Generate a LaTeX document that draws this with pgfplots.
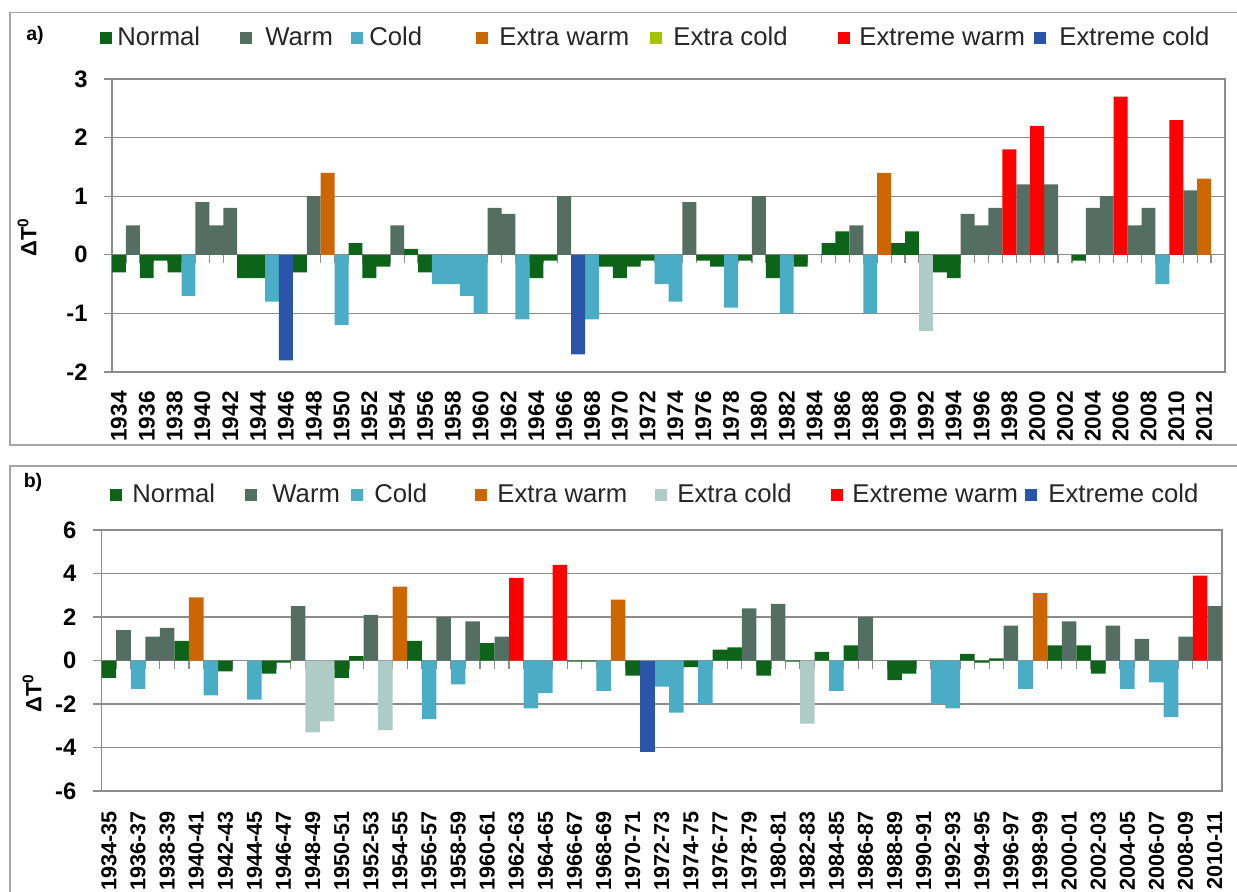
\documentclass[border=0pt]{standalone}
\usepackage{fontspec}
\setmainfont{Liberation Sans}
\usepackage{pgfplots}
\pgfplotsset{compat=1.18}
\definecolor{cNormal}{HTML}{0D6418}
\definecolor{cWarm}{HTML}{546E64}
\definecolor{cCold}{HTML}{4BACC6}
\definecolor{cXwarm}{HTML}{CC6600}
\definecolor{cXcold}{HTML}{AFCBC6}
\definecolor{cXcoldLeg}{HTML}{A5C400}
\definecolor{cEwarm}{HTML}{FF0000}
\definecolor{cEcold}{HTML}{2A55A8}
\definecolor{gridc}{HTML}{8C8C8C}
\definecolor{framec}{HTML}{A6A6A6}
\newcommand{\gap}[1]{\hspace*{#1}\null}
\pgfplotsset{
  catbar/.style={ybar, bar width=1, bar shift=0pt, fill=#1, draw=none,
    legend image code/.code={\fill[#1] (0pt,-3pt) rectangle (6pt,3pt);}},
  panel/.style={
    scale only axis, enlargelimits=false,
    axis line style={gridc, line width=0.6pt},
    ymajorgrids, grid style={gridc, line width=0.6pt},
    xtick style={draw=none},
    ytick style={gridc, line width=0.6pt}, ytick pos=left, tick align=outside, major tick length=4pt,
    yticklabel style={font=\fontsize{11.9}{12}\selectfont\bfseries, inner sep=0pt, anchor=east, xshift=-8pt},
    xticklabel style={font=\fontsize{11.3}{12}\selectfont\bfseries, inner sep=0pt, yshift=-5.5pt, rotate=90, anchor=east},
    /pgf/number format/assume math mode=true,
    legend columns=7,
    legend cell align=left,
    legend style={draw=none, fill=none, font=\fontsize{12.85}{14}\selectfont, inner sep=0pt,
      column sep=0pt, nodes={inner sep=0pt}, text=black!85},
    ylabel style={font=\fontsize{11}{12}\selectfont\bfseries, anchor=center, rotate=0},
  }
}
\begin{document}
\begin{tikzpicture}
\useasboundingbox (0pt,0pt) rectangle (618.5pt,-446pt);
% panel frames
\draw[framec, line width=0.75pt] (625pt,-6.35pt) -- (5pt,-6.35pt) -- (5pt,-222.5pt) -- (625pt,-222.5pt);
\draw[framec, line width=0.75pt] (625pt,-233pt) -- (5pt,-233pt) -- (5pt,-450pt);
\node[font=\fontsize{9.8}{10}\selectfont\bfseries] at (17.5pt,-17.5pt) {a)};
\node[font=\fontsize{9.8}{10}\selectfont\bfseries] at (16.5pt,-241pt) {b)};

% ---------------- panel a ----------------
\begin{axis}[panel,
  width=556.5pt, height=146.5pt, at={(56pt,-186pt)}, anchor=south west,
  xmin=-0.5, xmax=79.5, ymin=-2, ymax=3,
  ytick={-2,-1,0,1,2,3}, yticklabels={-2,-1,0,1,2,3},
  xtick={0,2,...,78},
  xticklabels={1934,1936,1938,1940,1942,1944,1946,1948,1950,1952,1954,1956,1958,1960,1962,1964,1966,1968,1970,1972,1974,1976,1978,1980,1982,1984,1986,1988,1990,1992,1994,1996,1998,2000,2002,2004,2006,2008,2010,2012},
  ylabel={ΔT\textsuperscript{0}},
  ylabel style={at={(axis description cs:-0.0764,0.461)}},
  legend style={at={(axis description cs:-0.0108,1.140)}, anchor=west},
]
\pgfplotsinvokeforeach{0,...,79}{\draw[gridc, line width=0.6pt] (axis cs:#1-0.5,0) -- ([yshift=-4pt]axis cs:#1-0.5,0);}
\addplot[catbar=cNormal] coordinates {(0,-0.3) (2,-0.4) (3,-0.1) (4,-0.3) (9,-0.4) (10,-0.4) (13,-0.3) (17,0.2) (18,-0.4) (19,-0.2) (21,0.1) (22,-0.3) (30,-0.4) (31,-0.1) (35,-0.2) (36,-0.4) (37,-0.2) (38,-0.1) (42,-0.1) (43,-0.2) (45,-0.1) (47,-0.4) (49,-0.2) (51,0.2) (52,0.4) (56,0.2) (57,0.4) (59,-0.3) (60,-0.4) (69,-0.1)};
\addlegendentry{\gap{2.5pt}Normal\gap{20.1pt}}
\addplot[catbar=cWarm] coordinates {(1,0.5) (6,0.9) (7,0.5) (8,0.8) (14,1.0) (20,0.5) (27,0.8) (28,0.7) (32,1.0) (41,0.9) (46,1.0) (53,0.5) (61,0.7) (62,0.5) (63,0.8) (65,1.2) (67,1.2) (70,0.8) (71,1.0) (73,0.5) (74,0.8) (77,1.1)};
\addlegendentry{\gap{6.5pt}Warm\gap{9.2pt}}
\addplot[catbar=cCold] coordinates {(5,-0.7) (11,-0.8) (16,-1.2) (23,-0.5) (24,-0.5) (25,-0.7) (26,-1.0) (29,-1.1) (34,-1.1) (39,-0.5) (40,-0.8) (44,-0.9) (48,-1.0) (54,-1.0) (75,-0.5)};
\addlegendentry{\gap{3pt}Cold\gap{27.1pt}}
\addplot[catbar=cXwarm] coordinates {(15,1.4) (55,1.4) (78,1.3)};
\addlegendentry{\gap{5.5pt}Extra warm\gap{10.5pt}}
\addplot[catbar=cXcold, legend image code/.code={\fill[cXcoldLeg] (0pt,-3pt) rectangle (6pt,3pt);}] coordinates {(58,-1.3)};
\addlegendentry{\gap{5.5pt}Extra cold\gap{25.4pt}}
\addplot[catbar=cEwarm] coordinates {(64,1.8) (66,2.2) (72,2.7) (76,2.3)};
\addlegendentry{\gap{4.5pt}Extreme warm\gap{4.7pt}}
\addplot[catbar=cEcold] coordinates {(12,-1.8) (33,-1.7)};
\addlegendentry{\gap{6.5pt}Extreme cold}
\end{axis}

% ---------------- panel b ----------------
\begin{axis}[panel,
  width=560.1pt, height=130.5pt, at={(50.85pt,-395.5pt)}, anchor=south west,
  xmin=-0.5, xmax=76.5, ymin=-6, ymax=6,
  ytick={-6,-4,-2,0,2,4,6}, yticklabels={-6,-4,-2,0,2,4,6},
  xtick={0,2,...,76},
  xticklabels={1934-35,1936-37,1938-39,1940-41,1942-43,1944-45,1946-47,1948-49,1950-51,1952-53,1954-55,1956-57,1958-59,1960-61,1962-63,1964-65,1966-67,1968-69,1970-71,1972-73,1974-75,1976-77,1978-79,1980-81,1982-83,1984-85,1986-87,1988-89,1990-91,1992-93,1994-95,1996-97,1998-99,2000-01,2002-03,2004-05,2006-07,2008-09,2010-11},
  xticklabel style={font=\fontsize{10.8}{12}\selectfont\bfseries},
  major tick length=4.5pt,
  ylabel={ΔT\textsuperscript{0}},
  ylabel style={at={(axis description cs:-0.0622,0.375)}},
  legend style={at={(axis description cs:0.0074,1.134)}, anchor=west},
]
\pgfplotsinvokeforeach{0,...,77}{\draw[gridc, line width=0.6pt] (axis cs:#1-0.5,0) -- ([yshift=-4pt]axis cs:#1-0.5,0);}
\addplot[catbar=cNormal] coordinates {(0,-0.8) (5,0.9) (8,-0.5) (11,-0.6) (12,-0.1) (16,-0.8) (17,0.2) (21,0.9) (26,0.8) (32,-0.05) (33,-0.05) (36,-0.7) (40,-0.3) (42,0.5) (43,0.6) (45,-0.7) (47,-0.05) (49,0.4) (51,0.7) (54,-0.9) (55,-0.6) (59,0.3) (60,-0.1) (61,0.1) (65,0.7) (67,0.7) (68,-0.6)};
\addlegendentry{\gap{5pt}Normal\gap{15.1pt}}
\addplot[catbar=cWarm] coordinates {(1,1.4) (3,1.1) (4,1.5) (13,2.5) (18,2.1) (23,2.0) (25,1.8) (27,1.1) (44,2.4) (46,2.6) (52,2.0) (62,1.6) (66,1.8) (69,1.6) (71,1.0) (74,1.1) (76,2.5)};
\addlegendentry{\gap{7.5pt}Warm\gap{5.7pt}}
\addplot[catbar=cCold] coordinates {(2,-1.3) (7,-1.6) (10,-1.8) (22,-2.7) (24,-1.1) (29,-2.2) (30,-1.5) (34,-1.4) (38,-1.2) (39,-2.4) (41,-2.0) (50,-1.4) (57,-2.0) (58,-2.2) (63,-1.3) (70,-1.3) (72,-1.0) (73,-2.6)};
\addlegendentry{\gap{5.5pt}Cold\gap{24.1pt}}
\addplot[catbar=cXwarm] coordinates {(6,2.9) (20,3.4) (35,2.8) (64,3.1)};
\addlegendentry{\gap{5pt}Extra warm\gap{14pt}}
\addplot[catbar=cXcold] coordinates {(14,-3.3) (15,-2.8) (19,-3.2) (48,-2.9)};
\addlegendentry{\gap{5pt}Extra cold\gap{19.9pt}}
\addplot[catbar=cEwarm] coordinates {(28,3.8) (31,4.4) (75,3.9)};
\addlegendentry{\gap{4.5pt}Extreme warm\gap{3.7pt}}
\addplot[catbar=cEcold] coordinates {(37,-4.2)};
\addlegendentry{\gap{5.5pt}Extreme cold}
\end{axis}
\end{tikzpicture}
\end{document}
